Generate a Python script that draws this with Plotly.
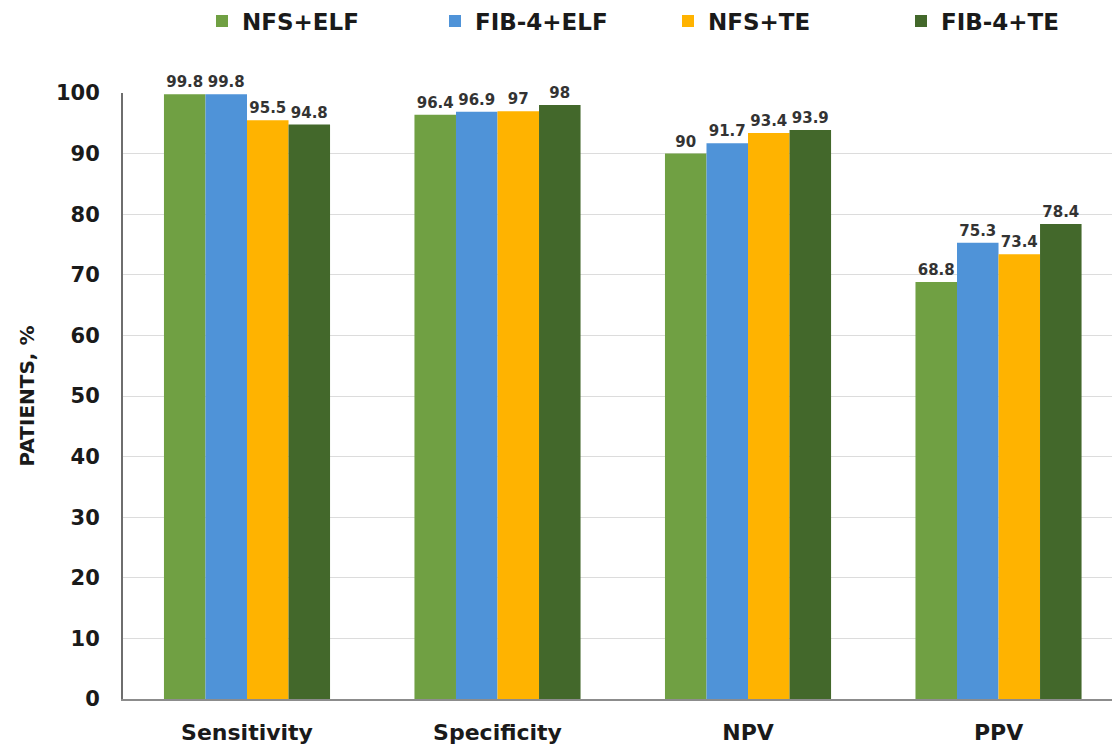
import plotly.graph_objects as go

categories = ["Sensitivity", "Specificity", "NPV", "PPV"]
series_names = ["NFS+ELF", "FIB-4+ELF", "NFS+TE", "FIB-4+TE"]
nfs_elf = [99.8, 96.4, 90, 68.8]
fib4_elf = [99.8, 96.9, 91.7, 75.3]
nfs_te = [95.5, 97, 93.4, 73.4]
fib4_te = [94.8, 98, 93.9, 78.4]
y_ticks = [0, 10, 20, 30, 40, 50, 60, 70, 80, 90, 100]

colors = ["#70a043", "#4f93d8", "#ffb300", "#43682b"]
values = [nfs_elf, fib4_elf, nfs_te, fib4_te]

FONT = "DejaVu Sans, Liberation Sans, Arial, sans-serif"

W, H = 1112, 749
ML, MT, MB = 123, 93, 50

fig = go.Figure()
for name, vals, col in zip(series_names, values, colors):
    fig.add_trace(go.Bar(
        name=name, x=categories, y=vals,
        marker=dict(color=col, line=dict(width=0)),
        text=[f"{v:g}" for v in vals],
        textposition="outside",
        textfont=dict(family=FONT, size=15, color="#333333", weight="bold"),
        cliponaxis=False,
    ))

plot_h = H - MT - MB
fig.update_layout(
    width=W, height=H,
    barmode="group", bargap=0.337, bargroupgap=0,
    plot_bgcolor="white", paper_bgcolor="white",
    margin=dict(l=ML, r=0, t=MT, b=MB, autoexpand=False),
    font=dict(family=FONT, color="#1a1a1a"),
    legend=dict(
        orientation="h", x=(202 - ML) / (W - ML), xanchor="left",
        y=1 + (MT - 21) / plot_h, yanchor="middle",
        entrywidth=188, entrywidthmode="pixels",
        itemwidth=30,
        font=dict(family=FONT, size=23, color="#1a1a1a", weight="bold"),
        traceorder="normal",
    ),
)

fig.update_xaxes(
    range=[-0.495, 3.453], automargin=False,
    showline=True, linecolor="#8c8c8c", linewidth=2,
    ticks="", showgrid=False, ticklabelstandoff=13,
    tickfont=dict(family=FONT, size=22, color="#1a1a1a", weight="bold"),
)
fig.update_yaxes(
    range=[0, 100], tickvals=y_ticks, automargin=False,
    showline=True, linecolor="#6e6e6e", linewidth=2,
    showgrid=True, gridcolor="#dcdcdc", gridwidth=1,
    zeroline=False, ticks="", ticklabelstandoff=17,
    tickfont=dict(family=FONT, size=21, color="#1a1a1a", weight="bold"),
    title=dict(text="PATIENTS, %", standoff=16,
               font=dict(family=FONT, size=20, color="#1a1a1a", weight="bold")),
)

fig.write_html(
    "out.html",
    config={"displayModeBar": False},
    post_script="document.body.style.margin='0';document.body.style.overflow='hidden';",
)
